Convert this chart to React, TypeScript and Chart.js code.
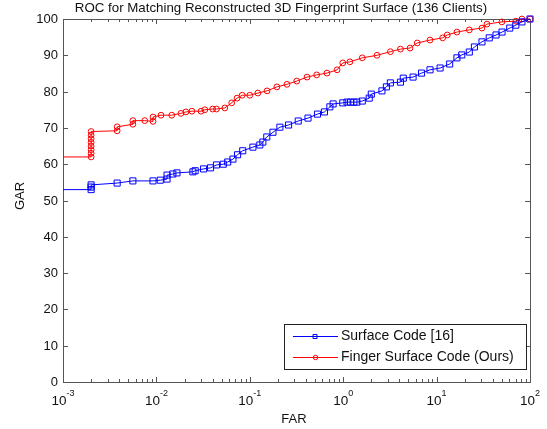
import React, { useEffect, useRef } from "react";
import { Chart, registerables } from "chart.js";

Chart.register(...registerables);

const chartTitle = "ROC for Matching Reconstructed 3D Fingerprint Surface (136 Clients)";
const xAxisTitle = "FAR";
const yAxisTitle = "GAR";
const seriesNames = ["Surface Code [16]", "Finger Surface Code (Ours)"];

const xTickExponents = [-3, -2, -1, 0, 1, 2];
const yTickValues = [0, 10, 20, 30, 40, 50, 60, 70, 80, 90, 100];

const blueFAR = [
  0.001, 0.002, 0.002, 0.002, 0.0038, 0.0056, 0.0092, 0.011, 0.013, 0.013, 0.015, 0.0166,
  0.0246, 0.026, 0.032, 0.038, 0.044, 0.052, 0.058, 0.066, 0.074, 0.084, 0.108, 0.128,
  0.138, 0.152, 0.177, 0.21, 0.26, 0.33, 0.42, 0.53, 0.63, 0.72, 0.78, 0.99, 1.1, 1.2,
  1.3, 1.4, 1.6, 1.9, 2.0, 2.6, 2.9, 3.2, 4.1, 4.4, 5.6, 6.9, 8.5, 10.9, 13.8, 16.5,
  18.6, 22.4, 25.4, 30.6, 36.6, 43.3, 50.2, 60.7, 70.5, 82, 100,
];
const blueGAR = [
  53, 53, 53.7, 54.3, 54.8, 55.4, 55.4, 55.6, 55.9, 57, 57.3, 57.6,
  57.9, 58.2, 58.7, 59, 59.8, 60, 60.6, 61.4, 62.6, 63.7, 64.7, 65.3,
  66.1, 67.5, 68.8, 70.2, 70.8, 71.9, 72.7, 73.8, 74.4, 75.8, 76.6, 76.9, 77.1, 77.1,
  77.1, 77.1, 77.4, 78.2, 79.3, 80.2, 81.3, 82.4, 82.6, 83.7, 84, 85.1, 86, 86.5, 87.6, 89.3,
  90.1, 90.9, 92.3, 93.7, 94.8, 95.6, 96.4, 97.5, 98.3, 99.2, 100,
];

const redFAR = [
  0.001, 0.002, 0.002, 0.002, 0.002, 0.002, 0.002, 0.002, 0.002, 0.0038, 0.0038, 0.0056,
  0.0056, 0.0075, 0.0092, 0.0092, 0.0112, 0.0146, 0.0183, 0.0207, 0.024, 0.03, 0.033, 0.04,
  0.044, 0.054, 0.064, 0.073, 0.083, 0.1, 0.122, 0.153, 0.195, 0.25, 0.318, 0.41, 0.52,
  0.67, 0.86, 0.99, 1.18, 1.6, 2.3, 3.2, 4.1, 5.2, 6.2, 8.5, 11.6, 13, 16.5, 22.4, 30.6,
  34.6, 50, 70.5, 82, 100,
];
const redGAR = [
  62, 62, 63, 64, 65, 66, 67, 68, 69, 69.2, 70.3, 71,
  72, 72, 71.8, 73, 73.5, 73.5, 74, 74.4, 74.6, 74.6, 75, 75.2,
  75.2, 75.5, 76.9, 78.2, 79, 79, 79.6, 80.2, 81.3, 82, 82.9, 84, 84.6,
  85.1, 86, 87.9, 88.2, 89.3, 90, 91, 91.7, 92, 93.4, 94.2, 94.8, 95.6, 96.4, 97, 97.5,
  98.6, 99.2, 99.4, 100, 100,
];

const FONT = '"Liberation Sans", Arial, Helvetica, sans-serif';
const AXIS_COLOR = "#555555";
const TEXT_COLOR = "#111111";
const BLUE = "#0000ff";
const RED = "#ff0000";

const toPoints = (xs: number[], ys: number[]) => xs.map((x, i) => ({ x, y: ys[i] }));

const decorPlugin = {
  id: "matlabDecor",
  beforeDatasetsDraw(chart: any) {
    const { ctx, chartArea: a, scales } = chart;
    const xs = scales.x;
    const ys = scales.y;
    ctx.save();
    ctx.strokeStyle = AXIS_COLOR;
    ctx.lineWidth = 1;
    ctx.beginPath();
    for (const v of yTickValues) {
      const py = Math.round(ys.getPixelForValue(v)) + 0.5;
      ctx.moveTo(a.left, py);
      ctx.lineTo(a.left + 5, py);
      ctx.moveTo(a.right, py);
      ctx.lineTo(a.right - 5, py);
    }
    for (let i = 0; i < xTickExponents.length; i++) {
      const e = xTickExponents[i];
      const base = Math.pow(10, e);
      const px = Math.round(xs.getPixelForValue(base)) + 0.5;
      ctx.moveTo(px, a.bottom);
      ctx.lineTo(px, a.bottom - 5);
      ctx.moveTo(px, a.top);
      ctx.lineTo(px, a.top + 5);
      if (i < xTickExponents.length - 1) {
        for (let m = 2; m <= 9; m++) {
          const mx = Math.round(xs.getPixelForValue(base * m)) + 0.5;
          ctx.moveTo(mx, a.bottom);
          ctx.lineTo(mx, a.bottom - 3);
          ctx.moveTo(mx, a.top);
          ctx.lineTo(mx, a.top + 3);
        }
      }
    }
    ctx.stroke();
    ctx.strokeRect(Math.round(a.left) + 0.5, Math.round(a.top) + 0.5, Math.round(a.right - a.left), Math.round(a.bottom - a.top));
    ctx.restore();
  },
  afterDraw(chart: any) {
    const { ctx, chartArea: a, scales } = chart;
    const xs = scales.x;
    const ys = scales.y;
    ctx.save();
    ctx.fillStyle = TEXT_COLOR;
    ctx.font = `13.3px ${FONT}`;
    ctx.textAlign = "center";
    ctx.textBaseline = "middle";
    ctx.fillText(chartTitle, 281, 8);
    ctx.font = `13px ${FONT}`;
    ctx.textAlign = "right";
    for (const v of yTickValues) {
      ctx.fillText(String(v), a.left - 5, ys.getPixelForValue(v) + 0.5);
    }
    ctx.textBaseline = "alphabetic";
    ctx.textAlign = "left";
    for (const e of xTickExponents) {
      const px = xs.getPixelForValue(Math.pow(10, e));
      ctx.font = `13.5px ${FONT}`;
      const wb = ctx.measureText("10").width;
      ctx.font = `9px ${FONT}`;
      const expText = String(e);
      const we = ctx.measureText(expText).width;
      const start = px - (wb + we) / 2;
      ctx.font = `13.5px ${FONT}`;
      ctx.fillText("10", start, a.bottom + 23);
      ctx.font = `9px ${FONT}`;
      ctx.fillText(expText, start + wb, a.bottom + 14);
    }
    ctx.font = `13px ${FONT}`;
    ctx.textAlign = "center";
    ctx.textBaseline = "middle";
    ctx.fillText(xAxisTitle, 294, 419);
    ctx.save();
    ctx.translate(20, 196);
    ctx.rotate(-Math.PI / 2);
    ctx.fillText(yAxisTitle, 0, 0);
    ctx.restore();
    const lx = 284, ly = 324, lw = 242, lh = 45;
    ctx.fillStyle = "#ffffff";
    ctx.fillRect(lx, ly, lw, lh);
    ctx.strokeStyle = "#222222";
    ctx.lineWidth = 1;
    ctx.strokeRect(lx + 0.5, ly + 0.5, lw, lh);
    const rows = [
      { name: seriesNames[0], color: BLUE, y: 336.5, marker: "rect" },
      { name: seriesNames[1], color: RED, y: 357.5, marker: "circle" },
    ];
    for (const r of rows) {
      ctx.strokeStyle = r.color;
      ctx.beginPath();
      ctx.moveTo(293, r.y);
      ctx.lineTo(338, r.y);
      ctx.stroke();
      ctx.beginPath();
      if (r.marker === "rect") {
        ctx.rect(313, r.y - 2, 4, 4);
      } else {
        ctx.arc(315.5, r.y, 2.2, 0, Math.PI * 2);
      }
      ctx.stroke();
      ctx.fillStyle = TEXT_COLOR;
      ctx.font = `14px ${FONT}`;
      ctx.textAlign = "left";
      ctx.textBaseline = "middle";
      ctx.fillText(r.name, 341, r.y);
    }
    ctx.restore();
  },
};

export default function App() {
  const ref = useRef<HTMLCanvasElement | null>(null);
  useEffect(() => {
    if (!ref.current) return;
    const chart = new Chart(ref.current, {
      type: "line",
      data: {
        datasets: [
          {
            label: seriesNames[0],
            data: toPoints(blueFAR, blueGAR),
            borderColor: BLUE,
            borderWidth: 1,
            pointStyle: "rect",
            pointRadius: blueFAR.map((_, i) => (i === 0 ? 0 : 4.3)),
            pointBorderColor: BLUE,
            pointBackgroundColor: "rgba(0,0,0,0)",
            pointBorderWidth: 1,
            tension: 0,
            clip: false,
          } as any,
          {
            label: seriesNames[1],
            data: toPoints(redFAR, redGAR),
            borderColor: RED,
            borderWidth: 1,
            pointStyle: "circle",
            pointRadius: redFAR.map((_, i) => (i === 0 ? 0 : 2.9)),
            pointBorderColor: RED,
            pointBackgroundColor: "rgba(0,0,0,0)",
            pointBorderWidth: 1,
            tension: 0,
            clip: false,
          } as any,
        ],
      },
      options: {
        responsive: false,
        animation: false,
        layout: { padding: { left: 63, top: 19, right: 17, bottom: 47 } },
        scales: {
          x: { type: "logarithmic", min: 0.001, max: 100, display: false },
          y: { type: "linear", min: 0, max: 100, display: false },
        },
        plugins: {
          legend: { display: false },
          title: { display: false },
          tooltip: { enabled: false },
        },
      },
      plugins: [decorPlugin],
    });
    return () => chart.destroy();
  }, []);
  return (
    <div style={{ position: "fixed", left: 0, top: 0, width: 547, height: 429, background: "#fff" }}>
      <canvas ref={ref} width={547} height={429} style={{ display: "block" }} />
    </div>
  );
}
